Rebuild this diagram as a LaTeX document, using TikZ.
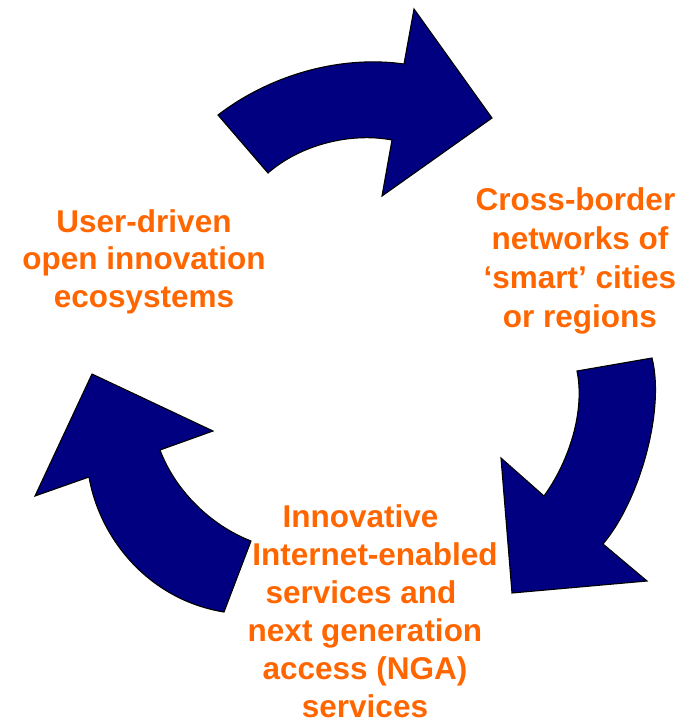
\documentclass[tikz,border=0pt]{standalone}
\usepackage{fontspec}
\setmainfont{Liberation Sans}
\definecolor{navyfill}{RGB}{0,0,128}
\definecolor{labelorange}{RGB}{255,102,0}
\tikzset{
  cyclearrow/.style={draw=black, line width=1.1pt, fill=navyfill, line join=miter},
  cyclelabel/.style={text=labelorange, align=center, inner sep=0pt,
    font=\bfseries\fontsize{31.5}{37.6}\selectfont}
}
\begin{document}
\begin{tikzpicture}[x=1pt,y=-1pt]
\useasboundingbox (0,0) rectangle (691,724);
% top arrow
\draw[cyclearrow] (218,115) -- (268,173)
  .. controls (300,145) and (350,132) .. (392,140)
  -- (382,196) -- (492,118) -- (414,9) -- (404,64)
  .. controls (340,55) and (270,75) .. (218,115) -- cycle;
% right arrow
\draw[cyclearrow] (652,358) -- (577,371)
  .. controls (585,410) and (570,460) .. (544,496)
  -- (501,458) -- (512,593) -- (647,581) -- (603,544)
  .. controls (640,500) and (665,410) .. (652,358) -- cycle;
% left arrow
\draw[cyclearrow] (224,612) -- (251,541)
  .. controls (210,525) and (175,490) .. (160,450)
  -- (213,431) -- (92,374) -- (35,496) -- (89,477)
  .. controls (100,540) and (150,600) .. (224,612) -- cycle;
% labels
\node[cyclelabel] (userdriven) at (144,261.5) {User-driven\\open innovation\\ecosystems};
\node[cyclelabel, font=\bfseries\fontsize{31.5}{39}\selectfont] (crossborder) at (580,260.5) {Cross-border\kern9pt\\networks of\\‘smart’ cities\\or regions};
\node[cyclelabel, font=\bfseries\fontsize{31.5}{38}\selectfont] (innovative) at (365,611) {Innovative\kern9pt\\\kern20pt Internet-enabled\\services and\kern8pt\\next generation\\access (NGA)\\services};
\end{tikzpicture}
\end{document}
